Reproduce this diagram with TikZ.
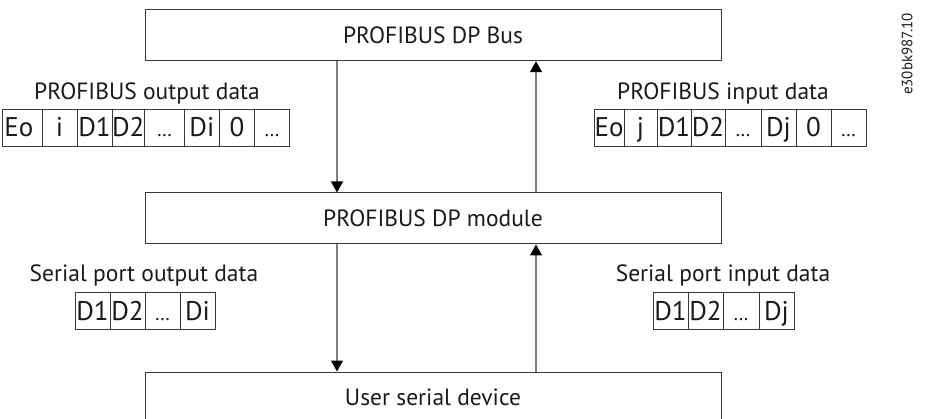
\documentclass[tikz,border=0pt]{standalone}
\usepackage{fontspec}
\setmainfont{PT Sans}
\usetikzlibrary{arrows.meta,calc}
\definecolor{boxc}{HTML}{3A3A3A}
\definecolor{linec}{HTML}{808080}
\definecolor{txtc}{HTML}{1A1A1A}
\newcommand\myell{{\fontsize{20}{20}\selectfont …}}
\begin{document}
\begin{tikzpicture}[x=1pt,y=-1pt,
  every node/.style={text=txtc},
  box/.style={draw=boxc, line width=1pt, minimum width=576pt, minimum height=51pt, inner sep=0pt,
    font=\fontsize{23.5}{27}\selectfont, text height=16pt, text depth=0pt},
  cell/.style={draw=boxc, line width=0.9pt, minimum height=37pt, inner sep=0pt, outer sep=0pt,
    font=\fontsize{27}{30}\selectfont, text height=19pt, text depth=0pt, anchor=west},
  ttl/.style={font=\fontsize{23.5}{26}\selectfont, anchor=base, inner sep=0pt},
  conn/.style={draw=linec, line width=1.3pt},
  arr/.style={conn, -{Triangle[length=11pt,width=12pt,color=black]}}
]
\useasboundingbox (0,0) rectangle (933,419);
\clip (0,0) rectangle (933,419);

% main boxes
\node[box] (bus) at (433,35.25) {PROFIBUS DP Bus};
\node[box] (mod) at (433,218.5) {PROFIBUS DP module};
\node[box] (dev) at (433,397.5) {User serial device};

% connectors
\coordinate (xl) at (337,0);
\coordinate (xr) at (536,0);
\draw[arr] (xl |- bus.south) -- (xl |- mod.north);
\draw[arr] (xr |- mod.north) -- (xr |- bus.south);
\draw[arr] (xl |- mod.south) -- (xl |- dev.north);
\draw[arr] (xr |- dev.north) -- (xr |- mod.south);

% PROFIBUS output data
\node[ttl] (to) at (147,100) {PROFIBUS output data};
\node[cell, minimum width=40pt, text width=35pt, align=left] (o1) at (2,127.5) {Eo};
\node[cell, minimum width=35pt] (o2) at (o1.east) {i};
\node[cell, minimum width=35pt] (o3) at (o2.east) {D1};
\node[cell, minimum width=31pt] (o4) at (o3.east) {D2};
\node[cell, minimum width=40pt] (o5) at (o4.east) {\myell};
\node[cell, minimum width=35pt] (o6) at (o5.east) {Di};
\node[cell, minimum width=35pt] (o7) at (o6.east) {0};
\node[cell, minimum width=35pt] (o8) at (o7.east) {\myell};

% PROFIBUS input data
\node[ttl] (ti) at (723,100) {PROFIBUS input data};
\node[cell, minimum width=30pt] (i1) at (594,127.5) {Eo};
\node[cell, minimum width=33pt] (i2) at (i1.east) {j};
\node[cell, minimum width=34pt] (i3) at (i2.east) {D1};
\node[cell, minimum width=34pt] (i4) at (i3.east) {D2};
\node[cell, minimum width=36pt] (i5) at (i4.east) {\myell};
\node[cell, minimum width=35pt] (i6) at (i5.east) {Dj};
\node[cell, minimum width=35pt] (i7) at (i6.east) {0};
\node[cell, minimum width=35pt] (i8) at (i7.east) {\myell};

% Serial port output data
\node[ttl] (so) at (144,282) {Serial port output data};
\node[cell, minimum width=35pt] (s1) at (75,310.5) {D1};
\node[cell, minimum width=35pt] (s2) at (s1.east) {D2};
\node[cell, minimum width=35pt] (s3) at (s2.east) {\myell};
\node[cell, minimum width=35pt] (s4) at (s3.east) {Di};

% Serial port input data
\node[ttl] (si) at (723,282) {Serial port input data};
\node[cell, minimum width=35pt] (r1) at (653,310.5) {D1};
\node[cell, minimum width=35pt] (r2) at (r1.east) {D2};
\node[cell, minimum width=36pt] (r3) at (r2.east) {\myell};
\node[cell, minimum width=35pt] (r4) at (r3.east) {Dj};

% figure code
\node[rotate=90, font=\fontsize{15}{17}\selectfont, inner sep=0pt] (code) at (907,54) {e30bk987.10};
\end{tikzpicture}
\end{document}
